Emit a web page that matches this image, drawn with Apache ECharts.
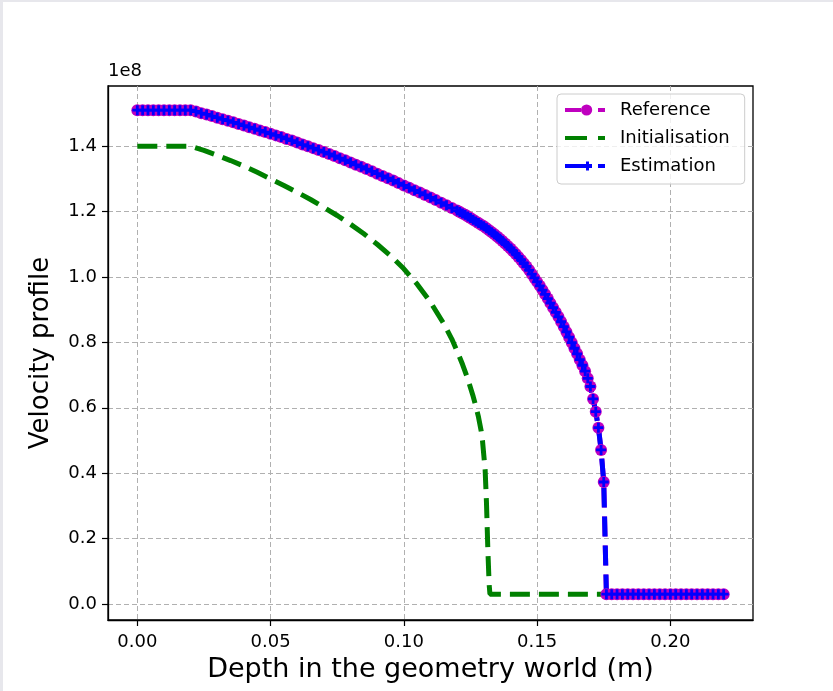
<!DOCTYPE html>
<html><head><meta charset="utf-8">
<script src="https://cdn.jsdelivr.net/npm/echarts@6/dist/echarts.min.js"></script>
<style>
html,body{margin:0;padding:0;background:#fff;}
#chart{position:absolute;left:0;top:0;width:833px;height:691px;}
#stripTop{position:absolute;left:0;top:0;width:833px;height:2px;background:#e7e7ec;}
#stripLeft{position:absolute;left:0;top:0;width:3px;height:691px;background:#e7e7ec;}
</style></head><body>
<div id="chart"></div><div id="stripTop"></div><div id="stripLeft"></div>
<script>
// Depth grid (m) shared by Reference and Estimation
const depth = [
0.000,0.002,0.004,0.006,0.008,0.010,0.012,0.014,0.016,0.018,
0.020,0.022,0.024,0.026,0.028,0.030,0.032,0.034,0.036,0.038,
0.040,0.042,0.044,0.046,0.048,0.050,0.052,0.054,0.056,0.058,
0.060,0.062,0.064,0.066,0.068,0.070,0.072,0.074,0.076,0.078,
0.080,0.082,0.084,0.086,0.088,0.090,0.092,0.094,0.096,0.098,
0.100,0.102,0.104,0.106,0.108,0.110,0.112,0.114,0.116,0.118,
0.120,0.121,0.122,0.123,0.124,0.125,0.126,0.127,0.128,0.129,
0.130,0.131,0.132,0.133,0.134,0.135,0.136,0.137,0.138,0.139,
0.140,0.141,0.142,0.143,0.144,0.145,0.146,0.147,0.148,0.149,
0.150,0.151,0.152,0.153,0.154,0.155,0.156,0.157,0.158,0.159,
0.160,0.161,0.162,0.163,0.164,0.165,0.166,0.167,0.168,0.169,
0.170,0.171,0.172,0.173,0.174,0.175,0.176,0.178,0.180,0.182,
0.184,0.186,0.188,0.190,0.192,0.194,0.196,0.198,0.200,0.202,
0.204,0.206,0.208,0.210,0.212,0.214,0.216,0.218,0.220];
// Velocity (units of 1e8)
const reference = [
1.510,1.510,1.510,1.510,1.510,1.510,1.510,1.510,1.510,1.510,
1.510,1.506,1.501,1.497,1.492,1.487,1.482,1.478,1.473,1.468,
1.463,1.458,1.453,1.448,1.443,1.438,1.433,1.428,1.422,1.417,
1.411,1.405,1.400,1.394,1.388,1.382,1.376,1.370,1.363,1.357,
1.350,1.343,1.337,1.330,1.323,1.316,1.309,1.302,1.295,1.287,
1.280,1.273,1.265,1.258,1.251,1.243,1.235,1.227,1.219,1.211,
1.203,1.199,1.194,1.190,1.185,1.180,1.175,1.170,1.165,1.160,
1.155,1.149,1.143,1.137,1.131,1.124,1.117,1.110,1.102,1.095,
1.087,1.079,1.070,1.061,1.052,1.042,1.032,1.021,1.009,0.997,
0.985,0.973,0.960,0.947,0.934,0.920,0.906,0.892,0.878,0.863,
0.848,0.832,0.816,0.799,0.782,0.765,0.747,0.730,0.712,0.690,
0.665,0.627,0.588,0.539,0.471,0.373,0.030,0.030,0.030,0.030,
0.030,0.030,0.030,0.030,0.030,0.030,0.030,0.030,0.030,0.030,
0.030,0.030,0.030,0.030,0.030,0.030,0.030,0.030,0.030];
const estimation = [
1.510,1.510,1.510,1.510,1.510,1.510,1.510,1.510,1.510,1.510,
1.510,1.506,1.501,1.497,1.492,1.487,1.482,1.478,1.473,1.468,
1.463,1.458,1.453,1.448,1.443,1.438,1.433,1.428,1.422,1.417,
1.411,1.405,1.400,1.394,1.388,1.382,1.376,1.370,1.363,1.357,
1.350,1.343,1.337,1.330,1.323,1.316,1.309,1.302,1.295,1.287,
1.280,1.273,1.265,1.258,1.251,1.243,1.235,1.227,1.219,1.211,
1.203,1.199,1.194,1.190,1.185,1.180,1.175,1.170,1.165,1.160,
1.155,1.149,1.143,1.137,1.131,1.124,1.117,1.110,1.102,1.095,
1.087,1.079,1.070,1.061,1.052,1.042,1.032,1.021,1.009,0.997,
0.985,0.973,0.960,0.947,0.934,0.920,0.906,0.892,0.878,0.863,
0.848,0.832,0.816,0.799,0.782,0.765,0.747,0.730,0.712,0.690,
0.665,0.627,0.588,0.539,0.471,0.373,0.030,0.030,0.030,0.030,
0.030,0.030,0.030,0.030,0.030,0.030,0.030,0.030,0.030,0.030,
0.030,0.030,0.030,0.030,0.030,0.030,0.030,0.030,0.030];
const initDepth = [
0.000,0.005,0.010,0.015,0.020,0.025,0.030,0.035,0.040,0.045,
0.050,0.055,0.060,0.065,0.070,0.075,0.080,0.085,0.090,0.095,
0.100,0.105,0.110,0.115,0.118,0.120,0.122,0.124,0.126,0.127,
0.128,0.129,0.1295,0.130,0.1305,0.131,0.1315,0.132,0.1323,0.140,
0.150,0.160,0.170,0.176];
const initialisation = [
1.400,1.400,1.400,1.400,1.400,1.387,1.372,1.356,1.339,1.320,
1.300,1.280,1.259,1.237,1.213,1.188,1.161,1.132,1.100,1.065,
1.025,0.978,0.923,0.857,0.810,0.773,0.733,0.688,0.635,0.605,
0.572,0.530,0.500,0.455,0.410,0.310,0.170,0.060,0.030,0.030,
0.030,0.030,0.030,0.030];
const xTicks = [0, 0.05, 0.10, 0.15, 0.20];
const yTicks = [0, 0.2, 0.4, 0.6, 0.8, 1.0, 1.2, 1.4];
const seriesNames = ['Reference', 'Initialisation', 'Estimation'];

const FONT = 'DejaVu Sans';
const pair = (xs, ys) => xs.map((x, i) => [x, ys[i]]);
const corners = 'M0,0 L0.01,0 L0,0.01 Z M50,14 L49.99,14 L50,13.99 Z ';
const iconRef = 'path://' + corners + 'M0,5 H16 V9 H0 Z M16,7 A5.6,5.6 0 1,1 27.2,7 A5.6,5.6 0 1,1 16,7 Z M33,5 H40 V9 H33 Z';
const iconInit = 'path://' + corners + 'M0,5 H22 V9 H0 Z M33,5 H40 V9 H33 Z';
const iconEst = 'path://' + corners + 'M0,5 H21 V9 H0 Z M21,2.5 H24 V5 H27 V9 H24 V11.5 H21 Z M33,5 H40 V9 H33 Z';
const plusSymbol = 'path://M3.6,0 H6.4 V3.6 H10 V6.4 H6.4 V10 H3.6 V6.4 H0 V3.6 H3.6 Z';
const gridLine = {show: true, lineStyle: {color: '#b0b0b0', width: 1, type: [5, 3]}};

const chart = echarts.init(document.getElementById('chart'), null, {renderer: 'canvas'});
chart.setOption({
  animation: false,
  backgroundColor: '#ffffff',
  textStyle: {fontFamily: FONT},
  grid: {left: 108, top: 86, width: 645, height: 534, show: true, borderColor: '#000', borderWidth: 1.3, backgroundColor: '#fff'},
  xAxis: {
    type: 'value', min: -0.011, max: 0.231,
    axisLine: {show: true, onZero: false, lineStyle: {color: '#000', width: 1.3}},
    axisTick: {show: true, length: 6, customValues: xTicks, lineStyle: {color: '#000', width: 1.2}},
    axisLabel: {customValues: xTicks, formatter: v => v.toFixed(2), color: '#000', fontSize: 18, fontFamily: FONT, margin: 13},
    splitLine: gridLine,
    name: 'Depth in the geometry world (m)', nameLocation: 'middle', nameGap: 36,
    nameTextStyle: {fontSize: 27, fontFamily: FONT, color: '#000'}
  },
  yAxis: {
    type: 'value', min: -0.049, max: 1.584,
    axisLine: {show: true, onZero: false, lineStyle: {color: '#000', width: 1.3}},
    axisTick: {show: true, length: 6, customValues: yTicks, lineStyle: {color: '#000', width: 1.2}},
    axisLabel: {customValues: yTicks, formatter: v => v.toFixed(1), color: '#000', fontSize: 18, fontFamily: FONT, margin: 11},
    splitLine: gridLine,
    name: 'Velocity profile', nameLocation: 'middle', nameGap: 54, nameRotate: 90,
    nameTextStyle: {fontSize: 26, fontFamily: FONT, color: '#000'}
  },
  legend: {
    orient: 'vertical', left: 557, top: 94,
    padding: [7, 15, 9, 8], itemGap: 10, itemWidth: 50, itemHeight: 14,
    backgroundColor: 'rgba(255,255,255,0.8)', borderColor: '#cccccc', borderWidth: 1, borderRadius: 4,
    textStyle: {fontSize: 18, fontFamily: FONT, color: '#000', lineHeight: 18},
    itemStyle: {borderWidth: 0},
    data: [
      {name: seriesNames[0], icon: iconRef},
      {name: seriesNames[1], icon: iconInit},
      {name: seriesNames[2], icon: iconEst}
    ]
  },
  graphic: [{type: 'text', left: 108, top: 62, style: {text: '1e8', font: '18px "DejaVu Sans"', fill: '#000'}}],
  series: [
    {
      name: seriesNames[0], type: 'line', data: pair(depth, reference),
      symbol: 'circle', symbolSize: 12, showSymbol: true, showAllSymbol: true,
      itemStyle: {color: '#bf00bf', borderWidth: 0},
      lineStyle: {color: '#bf00bf', width: 5, type: [20, 9]},
      silent: true, emphasis: {disabled: true}
    },
    {
      name: seriesNames[1], type: 'line', data: pair(initDepth, initialisation),
      symbol: 'none', showSymbol: false,
      itemStyle: {color: '#008000'},
      lineStyle: {color: '#008000', width: 5, type: [20, 9]},
      silent: true, emphasis: {disabled: true}
    },
    {
      name: seriesNames[2], type: 'line', data: pair(depth, estimation),
      symbol: plusSymbol, symbolSize: 10, showSymbol: true, showAllSymbol: true,
      itemStyle: {color: '#0000ff', borderWidth: 0},
      lineStyle: {color: '#0000ff', width: 5, type: [20, 9]},
      silent: true, emphasis: {disabled: true}
    }
  ]
});
</script>
</body></html>
